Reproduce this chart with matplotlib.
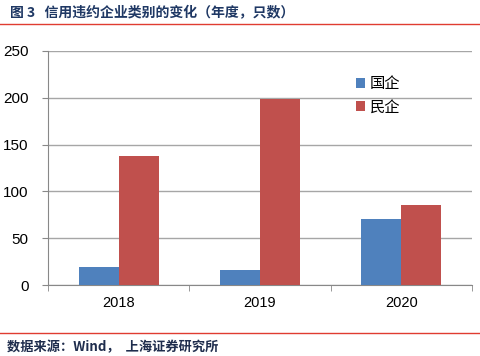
import numpy as np
import matplotlib.pyplot as plt
from matplotlib.lines import Line2D

plt.rcParams['font.family'] = ['Noto Sans CJK SC', 'DejaVu Sans']

years = ['2018', '2019', '2020']
soe = [19, 16, 71]        # 国企
private = [138, 199, 85]  # 民企
yticks = [0, 50, 100, 150, 200, 250]

fig = plt.figure(figsize=(4.8, 3.56), dpi=100)
ax = fig.add_axes([0.1, 0.1994, 0.883, 0.6576])

x = np.arange(len(years))
w = 0.283
ax.bar(x - w / 2, soe, w, color='#4F81BD', label='国企', zorder=3)
ax.bar(x + w / 2, private, w, color='#C0504D', label='民企', zorder=3)

ax.set_xlim(-0.5, len(years) - 0.5)
ax.set_ylim(0, 250)
ax.set_yticks(yticks)
ax.set_yticklabels([str(t) for t in yticks], fontsize=11, family=['Liberation Sans', 'DejaVu Sans'])
ax.set_xticks(x)
ax.set_xticklabels(years, fontsize=10.5, family=['Liberation Sans', 'DejaVu Sans'])
ax.tick_params(axis='x', length=0, pad=8)
ax.tick_params(axis='y', length=4, color='#888888', pad=10)
# category boundary ticks
ax.set_xticks(np.arange(len(years) + 1) - 0.5, minor=True)
ax.tick_params(axis='x', which='minor', length=4, color='#888888')

ax.grid(axis='y', color='#A6A6A6', linewidth=1, zorder=0)
for s in ['top', 'right']:
    ax.spines[s].set_visible(False)
for s in ['left', 'bottom']:
    ax.spines[s].set_color('#888888')

ax.legend(loc='upper left', bbox_to_anchor=(0.695, 0.955), frameon=False, fontsize=11,
          handlelength=0.6, handleheight=0.6, handletextpad=0.3, labelspacing=0.4)

# title and footer
fig.text(0.02, 0.962, '图 3   信用违约企业类别的变化（年度，只数）', fontsize=10,
         fontweight='bold', color='#1F3864', va='center')
fig.add_artist(Line2D([0, 1], [0.932, 0.932], color='#E03C31', linewidth=1))
fig.add_artist(Line2D([0, 1], [0.065, 0.065], color='#E03C31', linewidth=1))
fig.text(0.015, 0.025, '数据来源：Wind，  上海证券研究所', fontsize=9.5,
         fontweight='bold', style='italic', color='#1F2D4D', va='center')

fig.savefig('out.png', dpi=100)
